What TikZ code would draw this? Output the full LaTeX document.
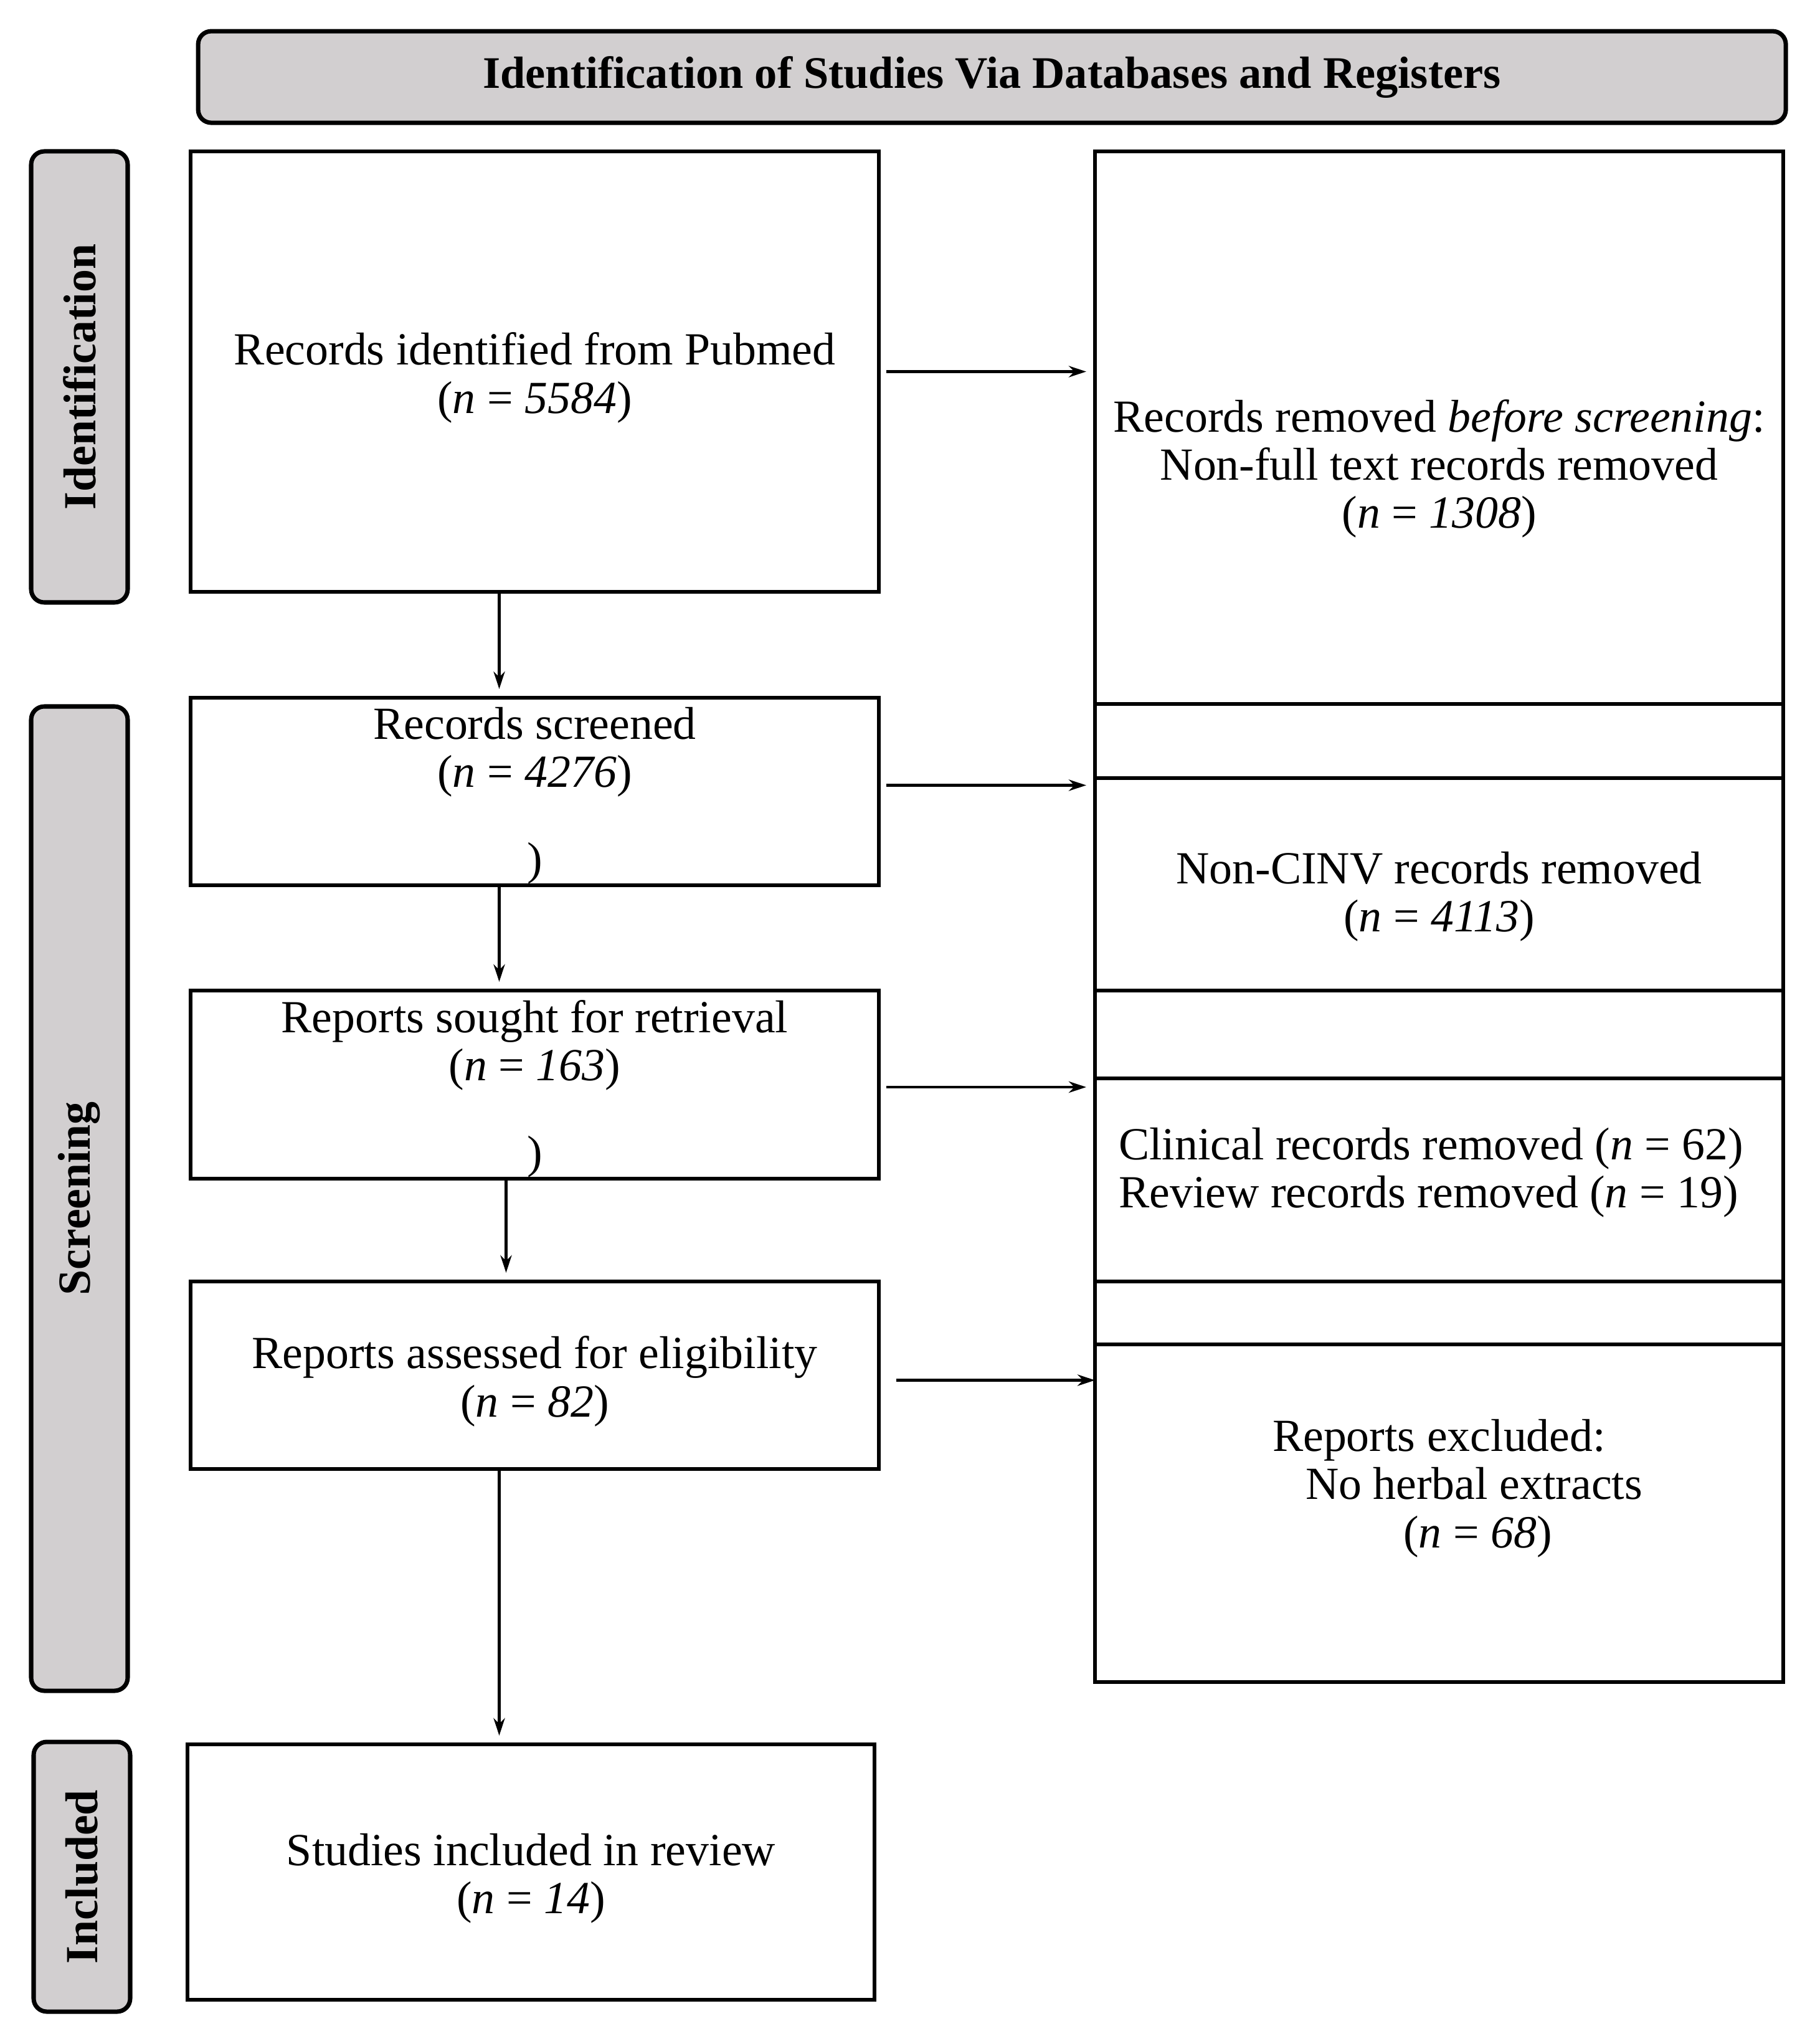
\documentclass[tikz,border=0pt]{standalone}
\usepackage{fontspec}
\setmainfont{Liberation Serif}
\usepackage{amsmath}
\usepackage{tikz}
\usetikzlibrary{arrows.meta}
\usepackage{xcolor}
\definecolor{stagegray}{RGB}{210,207,208}
\tikzset{
    stage/.style={draw, line width=1pt, fill=stagegray, rounded corners=3pt, inner sep=0pt, font=\fontsize{10.5}{11}\selectfont\bfseries},
    flowbox/.style={draw, line width=0.8pt, minimum width=5.525cm, inner sep=0pt, outer sep=0pt},
    toptext/.style={anchor=north, yshift=-2pt, inner sep=0pt, align=center, font=\fontsize{10.5}{11}\selectfont},
    midtext/.style={inner sep=0pt, align=center, font=\fontsize{10.5}{11}\selectfont},
    stray/.style={inner sep=0pt, font=\fontsize{10.5}{11}\selectfont},
    flowarrow/.style={-{Stealth[length=4pt,width=2.6pt]}, line width=0.6pt, shorten >=2pt}
}

\begin{document}
    \begin{tikzpicture}
        \useasboundingbox (0,0) rectangle (14.565,-16.405);
        \node[stage, minimum width=12.745cm, minimum height=0.735cm, font=\fontsize{10.3}{11}\selectfont\bfseries] (head) at (7.963,-0.618) {Identification of Studies Via Databases and Registers};
        \node[stage, rotate=90, minimum width=3.62cm, minimum height=0.775cm] (idstage) at (0.6375,-3.025) {Identification};
        \node[stage, rotate=90, minimum width=7.9cm, minimum height=0.775cm] (scrstage) at (0.6375,-9.62) {Screening};
        \node[stage, rotate=90, minimum width=2.165cm, minimum height=0.775cm] (incstage) at (0.6575,-15.0625) {Included};

        \node[flowbox, minimum height=3.535cm, label={[midtext, yshift=-0.05cm]center:Records identified from Pubmed\\(\textit{n} = \textit{5584})}] (pubmed) at (4.2925,-2.9825) {};
        \node[flowbox, minimum height=1.505cm, label={[toptext]north:Records screened\\(\textit{n} = \textit{4276})}] (screened) at (4.2925,-6.3525) {};
        \node[flowbox, minimum height=1.51cm, label={[toptext]north:Reports sought for retrieval\\(\textit{n} = \textit{163})}] (sought) at (4.2925,-8.705) {};
        \node[flowbox, minimum height=1.505cm, label={[midtext, yshift=-0.05cm]center:Reports assessed for eligibility\\(\textit{n} = \textit{82})}] (assessed) at (4.2925,-11.0375) {};
        \node[flowbox, minimum width=5.515cm, minimum height=2.05cm, label={[midtext, yshift=-0.05cm]center:Studies included in review\\(\textit{n} = \textit{14})}] (studies) at (4.2625,-15.025) {};
        \node[stray, anchor=south] (scrmark) at (screened.south) {)};
        \node[stray, anchor=south] (sghtmark) at (sought.south) {)};

        \node[flowbox, minimum height=4.435cm, label={[midtext, yshift=-0.33cm]center:Records removed \textit{before screening}:\\Non-full text records removed\\(\textit{n} = \textit{1308})}] (removed) at (11.5525,-3.4325) {};
        \node[flowbox, minimum height=0.595cm, anchor=north] (gapa) at (removed.south) {};
        \node[flowbox, minimum height=1.705cm, anchor=north, label={[midtext, yshift=-0.1cm]center:Non-CINV records removed\\(\textit{n} = \textit{4113})}] (noncinv) at (gapa.south) {};
        \node[flowbox, minimum height=0.705cm, anchor=north] (gapb) at (noncinv.south) {};
        \node[flowbox, minimum height=1.63cm, anchor=north, label={[midtext, align=left, xshift=-0.065cm, yshift=0.06cm]center:Clinical records removed (\textit{n} = 62)\\Review records removed (\textit{n} = 19)}] (clinical) at (gapb.south) {};
        \node[flowbox, minimum height=0.505cm, anchor=north] (gapc) at (clinical.south) {};
        \node[flowbox, minimum height=2.71cm, anchor=north, label={[midtext, yshift=0.2cm]center:Reports excluded:\\\hspace*{0.56cm}No herbal extracts\\\hspace*{0.62cm}(\textit{n} = \textit{68})}] (excluded) at (gapc.south) {};

        \draw[flowarrow] ([xshift=-0.285cm]pubmed.south) -- ([xshift=-0.285cm]pubmed.south |- screened.north);
        \draw[flowarrow] ([xshift=-0.285cm]screened.south) -- ([xshift=-0.285cm]screened.south |- sought.north);
        \draw[flowarrow] ([xshift=-0.23cm]sought.south) -- ([xshift=-0.23cm]sought.south |- assessed.north);
        \draw[flowarrow] ([xshift=-0.285cm]assessed.south) -- ([xshift=-0.285cm]assessed.south |- studies.north);
        \draw[flowarrow, shorten <=1.7pt] (pubmed.east) -- (pubmed.east -| removed.west);
        \draw[flowarrow, shorten <=1.7pt] ([yshift=0.05cm]screened.east) -- ([yshift=0.05cm]screened.east -| noncinv.west);
        \draw[flowarrow, shorten <=1.7pt] ([yshift=-0.02cm]sought.east) -- ([yshift=-0.02cm]sought.east -| clinical.west);
        \draw[flowarrow, shorten <=4pt, shorten >=0pt] ([yshift=-0.04cm]assessed.east) -- ([yshift=-0.04cm]assessed.east -| excluded.west);
    \end{tikzpicture}
\end{document}
